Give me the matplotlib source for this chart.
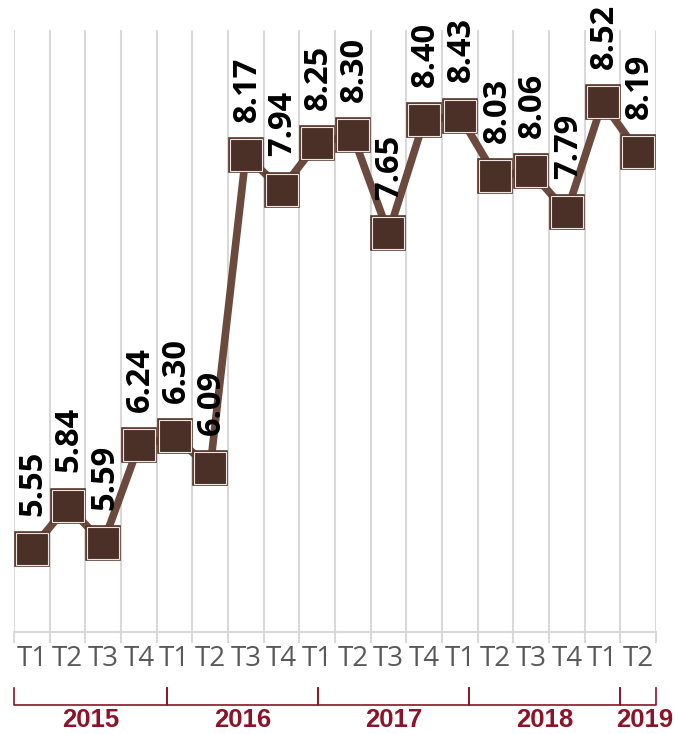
import numpy as np
import matplotlib.pyplot as plt

# datos
trimestres = ["T1", "T2", "T3", "T4", "T1", "T2", "T3", "T4", "T1",
              "T2", "T3", "T4", "T1", "T2", "T3", "T4", "T1", "T2"]
valores = [5.55, 5.84, 5.59, 6.24, 6.30, 6.09, 8.17, 7.94, 8.25,
           8.30, 7.65, 8.40, 8.43, 8.03, 8.06, 7.79, 8.52, 8.19]
anios = ["2015", "2016", "2017", "2018", "2019"]
limites_anios = [-0.5, 3.79, 8.02, 12.26, 16.49, 17.5]

fig = plt.figure(figsize=(6.75, 7.34), dpi=100)
ax = fig.add_axes([14 / 675, 1 - 632 / 734, 642 / 675, 602 / 734])

x = np.arange(len(valores))
ax.plot(x, valores, color="#6b4a3d", lw=5.5, solid_capstyle="round", zorder=2)
ax.plot(x, valores, ls="none", marker="s", ms=25, mfc="#4a3027",
        mec="#5a3a2e", mew=1.2, zorder=3)
ax.plot(x, valores, ls="none", marker="s", ms=22.5, mfc="#4a3027",
        mec="#efe6e2", mew=0.8, zorder=4)

for xi, v in zip(x, valores):
    ax.annotate(f"{v:.2f}", (xi, v), xytext=(1, 24), textcoords="offset points",
                rotation=90, ha="center", va="bottom", fontsize=23.5,
                fontweight="bold", family=["Open Sans", "DejaVu Sans"],
                color="black", zorder=5)

ax.set_xlim(-0.5, len(valores) - 0.5)
ax.set_ylim(5.0, 9.0)
ax.set_xticks(np.arange(len(valores) + 1) - 0.5, minor=True)
ax.set_xticks(x)
ax.set_xticklabels(trimestres, fontsize=20, color="#595959",
                   family=["Open Sans", "DejaVu Sans"])
ax.tick_params(axis="x", which="major", length=0, pad=9)
ax.tick_params(axis="x", which="minor", length=8, color="#d9d9d9", width=1.5)
ax.set_yticks([])
ax.grid(axis="x", which="minor", color="#d9d9d9", lw=1.5)
ax.set_axisbelow(True)
for s in ["top", "left", "right"]:
    ax.spines[s].set_visible(False)
ax.spines["bottom"].set_color("#d9d9d9")
ax.spines["bottom"].set_linewidth(1.5)

# corchetes de años
trans = ax.get_xaxis_transform()
rojo = "#8c1328"
y_top = (632 - 688) / 602
y_bot = (632 - 705) / 602
for i, anio in enumerate(anios):
    a, b = limites_anios[i], limites_anios[i + 1]
    ax.plot([a, a, b, b], [y_top, y_bot, y_bot, y_top], color=rojo, lw=1.2,
            transform=trans, clip_on=False)
    xc = (a + b) / 2 if i < 4 else b - 0.32
    ax.text(xc, (632 - 720) / 602, anio, transform=trans, ha="center",
            va="center", fontsize=18.5, fontweight="bold", color=rojo,
            family=["Liberation Sans Narrow", "Liberation Sans"])

fig.savefig("out.png", dpi=100, facecolor="white")
